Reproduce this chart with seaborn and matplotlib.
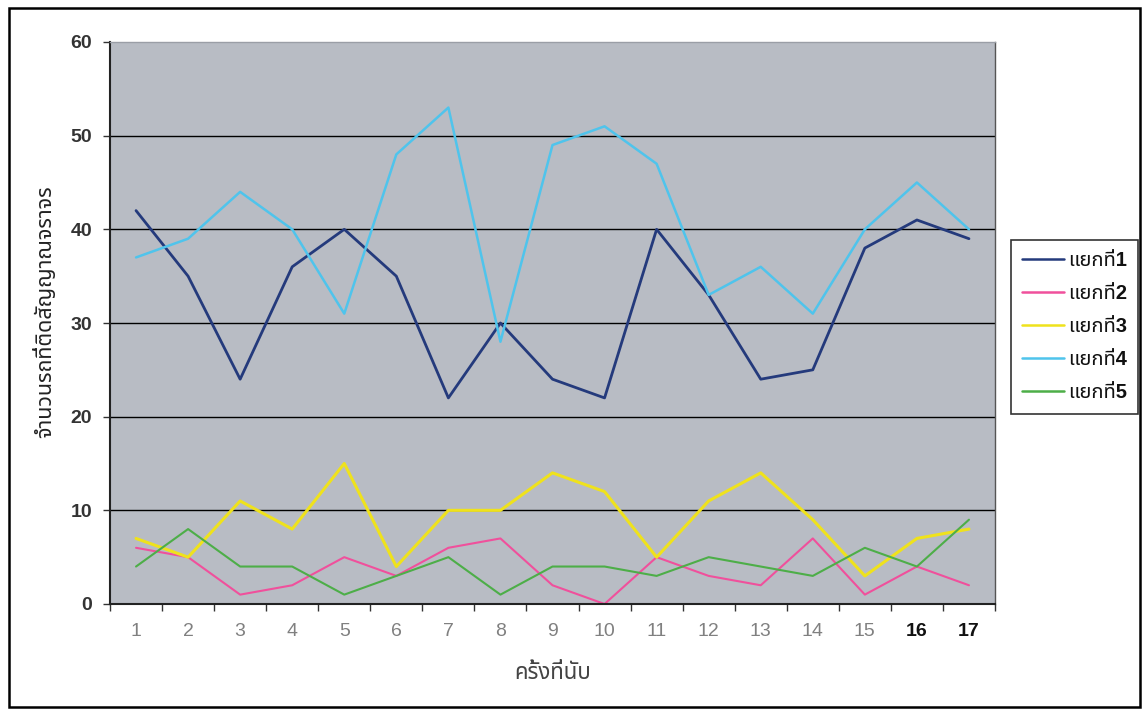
import numpy as np
import pandas as pd
import matplotlib
matplotlib.use("Agg")
import matplotlib.pyplot as plt
import seaborn as sns
from matplotlib import font_manager
from matplotlib.ft2font import FT2Font
from matplotlib.patches import Rectangle
from matplotlib.lines import Line2D

# ---------------- data ----------------
counts = list(range(1, 18))
series_names = ["แยกที่1", "แยกที่2", "แยกที่3", "แยกที่4", "แยกที่5"]
s1 = [42, 35, 24, 36, 40, 35, 22, 30, 24, 22, 40, 33, 24, 25, 38, 41, 39]
s2 = [6, 5, 1, 2, 5, 3, 6, 7, 2, 0, 5, 3, 2, 7, 1, 4, 2]
s3 = [7, 5, 11, 8, 15, 4, 10, 10, 14, 12, 5, 11, 14, 9, 3, 7, 8]
s4 = [37, 39, 44, 40, 31, 48, 53, 28, 49, 51, 47, 33, 36, 31, 40, 45, 40]
s5 = [4, 8, 4, 4, 1, 3, 5, 1, 4, 4, 3, 5, 4, 3, 6, 4, 9]
x_label = "ครั้งที่นับ"
y_label = "จำนวนรถที่ติดสัญญาณจราจร"
y_ticks = [0, 10, 20, 30, 40, 50, 60]

colors = ["#243a7c", "#f0509c", "#efe21c", "#4fc4ec", "#4dae48"]
widths = [2.0, 1.5, 2.2, 1.8, 1.5]

# ---------------- fonts ----------------
sns.set_theme(style="white")

def find_thai_fonts():
    found = {}
    for path in font_manager.findSystemFonts():
        try:
            f = FT2Font(path)
            cmap = f.get_charmap()
            if ord("ก") in cmap:
                name = font_manager.FontProperties(fname=path).get_name()
                found.setdefault(name, path)
        except Exception:
            continue
    return found

thai_fonts = find_thai_fonts()
preferred = ["Noto Sans Thai", "Noto Sans Thai UI", "Loma", "Garuda", "Waree",
             "Umpush", "Sawasdee", "Laksaman", "Kinnari", "Norasi", "Tahoma",
             "Leelawadee", "Purisa", "Tlwg Typist", "Tlwg Typo", "Tlwg Mono"]
thai = None
for p in preferred:
    if p in thai_fonts:
        thai = p
        break
if thai is None and thai_fonts:
    thai = sorted(thai_fonts)[0]

fams = ["Liberation Sans"] + ([thai] if thai else []) + ["DejaVu Sans"]
plt.rcParams["font.family"] = fams

df = pd.DataFrame({"count": counts * 5,
                   "value": s1 + s2 + s3 + s4 + s5,
                   "series": sum([[n] * len(counts) for n in series_names], [])})

fig = plt.figure(figsize=(11.43, 7.10), dpi=100)
fig.patch.set_facecolor("white")
ax = fig.add_axes([110 / 1143, 1 - 604 / 710, 885 / 1143, 562 / 710])
ax.set_facecolor("#b8bcc4")

for name, c, lw in zip(series_names, colors, widths):
    sns.lineplot(data=df[df["series"] == name], x="count", y="value",
                 color=c, lw=lw, ax=ax, legend=False)

ax.set_xlim(0.5, 17.5)
ax.set_ylim(0, 60)
ax.set_yticks(y_ticks)
for v in y_ticks[1:-1]:
    ax.axhline(v, color="black", lw=1.0, zorder=1)

ax.set_xticks(counts)
ax.set_xticks(np.arange(0.5, 18.0, 1.0), minor=True)
ax.tick_params(axis="x", which="major", length=0, pad=14)
ax.tick_params(axis="x", which="minor", length=5, width=1, color="#333333", direction="out", bottom=True)
ax.tick_params(axis="y", length=5, width=1, color="#333333", direction="out", left=True, pad=8)
for lbl in ax.get_yticklabels():
    lbl.set_fontsize(14)
    lbl.set_fontweight("bold")
    lbl.set_color("#333333")
for i, lbl in enumerate(ax.get_xticklabels()):
    lbl.set_fontsize(14)
    if i >= 15:
        lbl.set_fontweight("bold")
        lbl.set_color("#111111")
    else:
        lbl.set_color("#808080")

for side in ["top", "right"]:
    ax.spines[side].set_visible(True)
    ax.spines[side].set_linewidth(1.0)
ax.spines["right"].set_color("#555555")
ax.spines["top"].set_color("#9a9ea6")
for side in ["left", "bottom"]:
    ax.spines[side].set_color("#222222")
    ax.spines[side].set_linewidth(1.5)

ax.set_xlabel(x_label, fontsize=16, fontweight="bold", color="#444444", labelpad=16)
ax.set_ylabel(y_label, fontsize=15.5, fontweight="bold", color="#222222", labelpad=-2)
ax.yaxis.set_label_coords(-54 / 885, 0.52)

handles = [Line2D([0], [0], color=c, lw=1.8) for c in colors]
leg = fig.legend(handles, series_names, loc="upper left",
                 bbox_to_anchor=(1011 / 1143, 1 - 240 / 710),
                 frameon=True, fancybox=False, edgecolor="black",
                 fontsize=14.5, handlelength=2.1, handletextpad=0.2,
                 labelspacing=0.7, borderpad=0.55, borderaxespad=0)
leg.get_frame().set_linewidth(1.2)
for t in leg.get_texts():
    t.set_fontweight("bold")
    t.set_color("#111111")

fig.patches.append(Rectangle((9 / 1143, 1 - 707 / 710), 1131 / 1143, 699 / 710,
                             transform=fig.transFigure, fill=False,
                             edgecolor="black", lw=1.8))

fig.savefig("out.png", dpi=100, facecolor="white")
